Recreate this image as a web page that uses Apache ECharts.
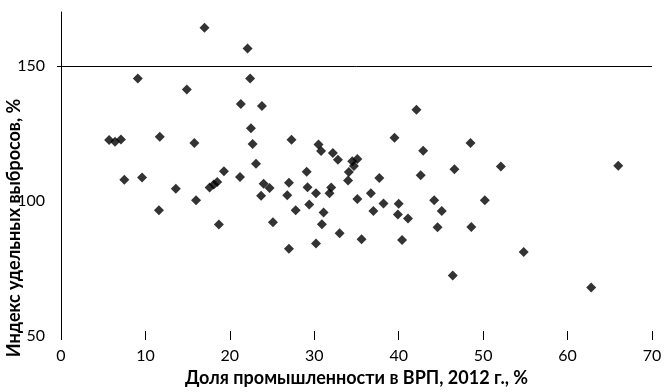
<!DOCTYPE html>
<html>
<head>
<meta charset="utf-8">
<script src="https://cdn.jsdelivr.net/npm/echarts@6/dist/echarts.min.js"></script>
<style>
html,body{margin:0;padding:0;background:#fff;}
#chart{width:670px;height:392px;}
</style>
</head>
<body>
<div id="chart"></div>
<script>
// Доля промышленности в ВРП, 2012 г., %
var industryShare = [
  5.7, 6.4, 7.1, 7.5, 9.6, 9.1, 11.6, 11.7, 13.6, 14.9,
  15.8, 16.0, 17.0, 17.6, 18.1, 18.5, 18.7, 19.3, 21.2, 21.3,
  22.1, 22.4, 22.5, 22.7, 23.1, 23.8, 23.7, 24.0, 24.7, 25.1,
  26.8, 27.0, 27.0, 27.3, 27.8, 29.1, 29.2, 29.4, 30.2, 30.2,
  30.5, 30.8, 30.9, 31.1, 31.8, 32.0, 32.2, 32.8, 33.0, 34.0,
  34.1, 34.5, 35.1, 34.7, 35.1, 35.6, 36.7, 37.0, 37.7, 38.2,
  39.5, 39.9, 40.0, 40.4, 41.1, 42.1, 42.6, 42.9, 44.2, 44.6,
  45.1, 46.4, 46.6, 48.5, 48.6, 50.2, 52.1, 54.8, 62.8, 66.0
];
// Индекс удельных выбросов, %
var emissionIndex = [
  122.6, 121.9, 122.8, 107.9, 108.7, 145.4, 96.6, 123.8, 104.5, 141.3,
  121.5, 100.3, 164.2, 105.0, 106.1, 107.0, 91.3, 111.0, 108.9, 135.9,
  156.5, 145.4, 126.9, 121.1, 113.8, 135.2, 101.9, 106.4, 104.8, 92.1,
  102.1, 106.8, 82.3, 122.7, 96.6, 110.8, 105.1, 98.7, 102.9, 84.3,
  120.9, 118.5, 91.4, 95.7, 102.9, 105.0, 117.8, 115.3, 88.1, 107.6,
  110.7, 114.7, 115.6, 113.0, 100.7, 85.8, 102.9, 96.3, 108.5, 99.1,
  123.4, 95.0, 99.0, 85.6, 93.5, 133.8, 109.5, 118.6, 100.3, 90.3,
  96.3, 72.4, 111.8, 121.5, 90.4, 100.3, 112.8, 81.1, 68.0, 113.1
];
var xTicks = [0, 10, 20, 30, 40, 50, 60, 70];
var yTicks = [50, 100, 150];
var refLine = 150;

var points = industryShare.map(function (x, i) { return [x, emissionIndex[i]]; });

var chart = echarts.init(document.getElementById('chart'), null, {renderer: 'canvas'});
var font = 'Lato';
chart.setOption({
  animation: false,
  backgroundColor: '#ffffff',
  grid: {left: 61, right: 18, top: 12, bottom: 53, containLabel: false},
  xAxis: [{
    type: 'value', min: 0, max: 70, interval: 10,
    name: 'Доля промышленности в ВРП, 2012 г., %',
    nameLocation: 'middle', nameGap: 33,
    nameTextStyle: {fontFamily: font, fontSize: 18, fontWeight: 'bold', color: '#000'},
    axisLine: {show: false},
    axisTick: {show: true, inside: false, length: 4, lineStyle: {color: '#000', width: 1}},
    axisLabel: {color: '#000', fontFamily: font, fontSize: 16, margin: 12,
      customValues: xTicks},
    splitLine: {show: false}
  }, {
    type: 'value', min: 0, max: 70, interval: 10, position: 'bottom',
    axisLine: {show: false},
    axisTick: {show: true, inside: true, length: 5, lineStyle: {color: '#000', width: 1}},
    axisLabel: {show: false},
    splitLine: {show: false}
  }],
  yAxis: {
    type: 'value', min: 50, max: 170, interval: 50,
    axisLine: {show: true, lineStyle: {color: '#000', width: 1}},
    axisTick: {show: true, length: 4, customValues: [150], lineStyle: {color: '#000'}},
    axisLabel: {color: '#000', fontFamily: font, fontSize: 16, margin: 16, customValues: yTicks},
    splitLine: {show: false}
  },
  graphic: [{
    type: 'text',
    x: 14, y: 228, rotation: Math.PI / 2,
    style: {
      text: 'Индекс удельных выбросов, %',
      fontFamily: font, fontSize: 18, fontWeight: 'bold', fill: '#000',
      align: 'center', verticalAlign: 'middle'
    }
  }],
  series: [{
    type: 'scatter',
    xAxisIndex: 0,
    data: points,
    symbol: 'diamond',
    symbolSize: 10,
    itemStyle: {color: '#000'},
    markLine: {
      silent: true, symbol: 'none',
      label: {show: false},
      lineStyle: {color: '#000', type: 'solid', width: 1},
      data: [{yAxis: refLine}]
    }
  }]
});
</script>
</body>
</html>
